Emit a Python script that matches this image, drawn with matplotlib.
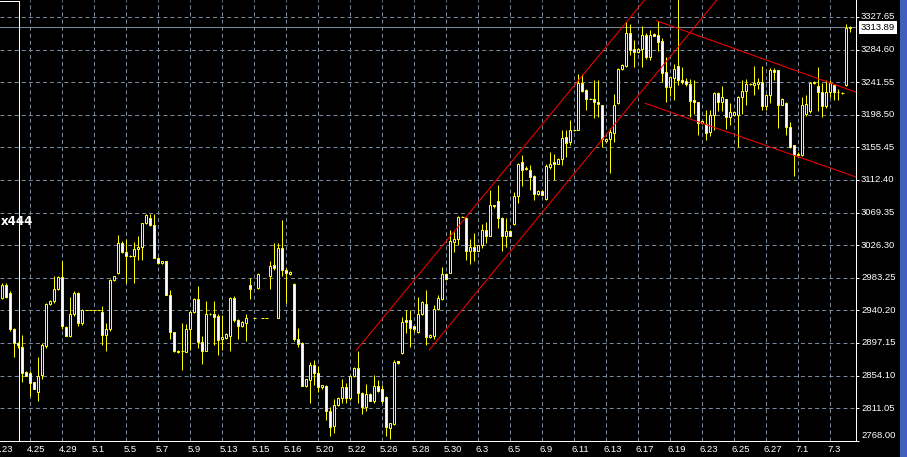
import matplotlib
matplotlib.use('Agg')
import matplotlib.pyplot as plt
import matplotlib.transforms as mtransforms
from matplotlib.patches import Rectangle

plt.rcParams['lines.scale_dashes'] = False
plt.rcParams['font.family'] = ['Liberation Sans', 'DejaVu Sans']

# hourly candles, one entry per bar
opens = [
    2957, 2974, 2963, 2915, 2897, 2892, 2859, 2857, 2845, 2833,
    2855, 2893, 2949, 2952, 2969, 2984, 2918, 2907, 2935, 2963,
    2923, 2941, 2941, 2941, 2941, 2938, 2908, 2915, 2980, 2990,
    3029, 3017, 3012, 3012, 3021, 3024, 3055, 3062, 3053, 3010,
    3003, 3005, 2961, 2911, 2887, 2886, 2885, 2915, 2938, 2955,
    2899, 2887, 2936, 2936, 2933, 2902, 2904, 2906, 2956, 2928,
    2919, 2924, 2974, 2930, 2970, 2930, 2930, 2986, 3000, 2930,
    3022, 2994, 2988, 2975, 2902, 2897, 2840, 2848, 2868, 2857,
    2839, 2840, 2807, 2787, 2815, 2824, 2839, 2824, 2853, 2864,
    2831, 2812, 2830, 2820, 2840, 2836, 2826, 2785, 2790, 2873,
    2884, 2928, 2928, 2919, 2912, 2935, 2949, 2905, 2906, 2942,
    2955, 2988, 2990, 3031, 3034, 3064, 3062, 3019, 3024, 3019,
    3026, 3046, 3039, 3080, 3085, 3062, 3039, 3045, 3054, 3091,
    3136, 3128, 3125, 3118, 3094, 3098, 3087, 3130, 3136, 3134,
    3140, 3169, 3162, 3178, 3179, 3241, 3231, 3220, 3220, 3216,
    3211, 3164, 3167, 3175, 3214, 3259, 3263, 3307, 3286, 3281,
    3286, 3304, 3275, 3305, 3304, 3296, 3255, 3235, 3247, 3263,
    3245, 3243, 3239, 3218, 3215, 3188, 3186, 3176, 3198, 3227,
    3216, 3219, 3196, 3198, 3198, 3222, 3230, 3239, 3238, 3239,
    3242, 3210, 3225, 3257, 3257, 3212, 3214, 3182, 3158, 3147,
    3145, 3200, 3203, 3242, 3237, 3229, 3210, 3229, 3238, 3229,
    3227, 3238, 3313,
]
highs = [
    2976, 2976, 2966, 2917, 2899, 2908, 2860, 2860, 2846, 2878,
    2897, 2950, 2954, 2985, 2986, 3005, 2920, 2958, 2966, 2965,
    2942, 2941, 2941, 2941, 2941, 2946, 2924, 2982, 2986, 3040,
    3032, 3035, 3013, 3031, 3038, 3056, 3067, 3068, 3068, 3011,
    3006, 3006, 2967, 2912, 2888, 2924, 2922, 2939, 2956, 2972,
    2906, 2952, 2937, 2952, 2936, 2934, 2910, 2958, 2959, 2929,
    2926, 2936, 2983, 2930, 2989, 2930, 2930, 3005, 3029, 3029,
    3060, 2996, 2992, 2977, 2917, 2899, 2850, 2872, 2875, 2867,
    2842, 2841, 2812, 2823, 2826, 2849, 2844, 2855, 2865, 2886,
    2832, 2843, 2831, 2855, 2848, 2842, 2827, 2792, 2875, 2874,
    2932, 2941, 2941, 2920, 2958, 2952, 2967, 2909, 2947, 2960,
    2998, 2989, 3047, 3044, 3065, 3065, 3063, 3035, 3043, 3027,
    3054, 3057, 3099, 3080, 3106, 3063, 3062, 3046, 3097, 3135,
    3146, 3131, 3132, 3119, 3099, 3099, 3134, 3149, 3147, 3141,
    3178, 3178, 3191, 3179, 3253, 3253, 3233, 3221, 3245, 3244,
    3212, 3168, 3181, 3226, 3260, 3265, 3321, 3319, 3297, 3287,
    3316, 3306, 3310, 3306, 3323, 3300, 3275, 3249, 3266, 3355,
    3262, 3247, 3246, 3245, 3216, 3191, 3205, 3205, 3229, 3229,
    3237, 3220, 3214, 3203, 3223, 3245, 3246, 3240, 3263, 3247,
    3263, 3226, 3260, 3260, 3258, 3221, 3215, 3189, 3159, 3150,
    3222, 3225, 3242, 3243, 3262, 3240, 3244, 3244, 3239, 3232,
    3228, 3319, 3316,
]
lows = [
    2955, 2956, 2913, 2879, 2890, 2845, 2853, 2827, 2836, 2820,
    2850, 2890, 2947, 2950, 2967, 2916, 2906, 2905, 2933, 2920,
    2921, 2941, 2941, 2941, 2941, 2894, 2887, 2913, 2979, 2988,
    3016, 2977, 3011, 2976, 3007, 3007, 3054, 3052, 3009, 3002,
    3002, 2960, 2902, 2885, 2884, 2862, 2885, 2888, 2937, 2890,
    2870, 2886, 2934, 2895, 2881, 2888, 2903, 2887, 2925, 2903,
    2918, 2900, 2955, 2930, 2969, 2930, 2930, 2968, 2994, 2930,
    2986, 2950, 2987, 2900, 2892, 2840, 2839, 2818, 2842, 2832,
    2837, 2796, 2774, 2778, 2814, 2818, 2818, 2822, 2852, 2818,
    2803, 2807, 2820, 2818, 2832, 2818, 2774, 2771, 2789, 2870,
    2883, 2910, 2892, 2912, 2910, 2934, 2894, 2904, 2903, 2941,
    2954, 2980, 2989, 3017, 3027, 3063, 3007, 3002, 3006, 3018,
    3022, 3029, 3038, 3075, 3049, 3019, 3024, 3038, 3053, 3082,
    3105, 3126, 3099, 3086, 3093, 3092, 3086, 3127, 3112, 3133,
    3132, 3143, 3159, 3177, 3178, 3229, 3205, 3219, 3194, 3196,
    3156, 3163, 3121, 3163, 3213, 3258, 3262, 3277, 3262, 3280,
    3262, 3272, 3271, 3302, 3283, 3242, 3216, 3223, 3218, 3238,
    3239, 3237, 3196, 3200, 3172, 3187, 3165, 3170, 3178, 3204,
    3204, 3180, 3185, 3197, 3156, 3200, 3211, 3238, 3225, 3233,
    3205, 3205, 3214, 3244, 3181, 3211, 3172, 3154, 3118, 3144,
    3144, 3197, 3201, 3239, 3203, 3196, 3208, 3222, 3218, 3218,
    3226, 3237, 3308,
]
closes = [
    2974, 2958, 2915, 2897, 2894, 2858, 2854, 2844, 2837, 2853,
    2895, 2949, 2953, 2969, 2984, 2919, 2907, 2935, 2963, 2923,
    2941, 2941, 2941, 2941, 2941, 2908, 2915, 2980, 2985, 3029,
    3017, 3012, 3012, 3021, 3024, 3055, 3066, 3053, 3010, 3003,
    3005, 2961, 2911, 2886, 2885, 2886, 2915, 2938, 2955, 2899,
    2887, 2935, 2935, 2932, 2901, 2905, 2909, 2956, 2928, 2919,
    2925, 2930, 2969, 2930, 2988, 2930, 2930, 2999, 2996, 3022,
    2993, 2989, 2991, 2902, 2896, 2840, 2849, 2868, 2857, 2839,
    2841, 2807, 2786, 2815, 2825, 2839, 2824, 2854, 2864, 2831,
    2812, 2830, 2821, 2840, 2834, 2820, 2786, 2791, 2872, 2871,
    2925, 2925, 2917, 2915, 2935, 2951, 2905, 2908, 2942, 2956,
    2988, 2981, 3032, 3034, 3064, 3064, 3019, 3024, 3018, 3026,
    3046, 3038, 3079, 3078, 3062, 3039, 3045, 3039, 3091, 3134,
    3126, 3127, 3117, 3094, 3098, 3093, 3131, 3134, 3133, 3140,
    3168, 3161, 3178, 3178, 3241, 3230, 3220, 3220, 3216, 3213,
    3167, 3167, 3176, 3211, 3259, 3264, 3306, 3284, 3281, 3286,
    3304, 3275, 3304, 3303, 3294, 3254, 3235, 3248, 3259, 3244,
    3242, 3239, 3217, 3215, 3188, 3190, 3175, 3198, 3227, 3216,
    3222, 3196, 3202, 3202, 3222, 3230, 3239, 3239, 3240, 3242,
    3210, 3225, 3257, 3255, 3211, 3220, 3182, 3156, 3145, 3146,
    3212, 3213, 3241, 3240, 3229, 3210, 3229, 3241, 3229, 3228,
    3227, 3313, 3313.89,
]

date_labels = ['4.23', '4.25', '4.29', '5.1', '5.5', '5.7', '5.9', '5.13', '5.15',
               '5.16', '5.20', '5.22', '5.26', '5.28', '5.30', '6.3', '6.5', '6.9',
               '6.11', '6.13', '6.17', '6.19', '6.23', '6.25', '6.27', '7.1', '7.3']
first_label_bar = -1
bars_per_label = 8

price_min = 2768.00
price_step = 43.05
n_levels = 14
last_price = 3313.89

# trend channels drawn on the chart: (bar, price) start and slope per bar
up_channel = [((88.6, 2888.0), 6.42), ((106.75, 2888.0), 6.43)]
down_channel = [((163.6, 3322.6), -1.89), ((160.7, 3213.7), -1.846)]
separator_bar = 4.3

YELLOW = '#ffff00'
GRID = '#778899'
PX = 0.72  # one pixel in points at dpi 100

fig = plt.figure(figsize=(9.07, 4.57), dpi=100, facecolor='black')
ax = fig.add_axes([0, 16 / 457, 856 / 907, 441 / 457])
ax.set_facecolor('black')
x_lo, x_hi = -0.575, 213.425
y_lo, y_hi = 2767.7, 3350.1
ax.set_xlim(x_lo, x_hi)
ax.set_ylim(y_lo, y_hi)

# grid
levels = [price_min + price_step * i for i in range(n_levels)]
dash = (0, (2.9, 2.2))
for p in levels[1:]:
    ax.axhline(p, color=GRID, lw=PX, ls=dash, zorder=1)
label_bars = [first_label_bar + bars_per_label * i for i in range(len(date_labels))]
for b in label_bars:
    ax.axvline(b, color=GRID, lw=PX, ls=dash, zorder=1)

# candles
n = len(closes)
idx = list(range(n))
ax.vlines(idx, lows, highs, color=YELLOW, lw=PX, zorder=3)
for i in idx:
    o, c = opens[i], closes[i]
    if abs(c - o) < 0.5:
        ax.hlines(o, i - 0.375, i + 0.375, color=YELLOW, lw=PX, zorder=4)
    else:
        face = 'white' if c < o else 'black'
        ax.add_patch(Rectangle((i - 0.25, min(o, c)), 0.5, abs(c - o),
                               facecolor=face, edgecolor=YELLOW, lw=PX, zorder=4))

# channels
for (x0, y0), s in up_channel + down_channel:
    x1 = x_hi + 2 if s < 0 else x0 + (y_hi + 30 - y0) / s
    ax.plot([x0, x1], [y0, y0 + s * (x1 - x0)], color='#ff0000', lw=PX, zorder=5)

# last price line
ax.axhline(last_price, color=GRID, lw=PX, zorder=2)

# white rectangle object at left
ax.plot([separator_bar, separator_bar], [y_lo, y_hi - 0.9], color='white', lw=PX, zorder=6)
ax.plot([x_lo, separator_bar], [y_hi - 0.9, y_hi - 0.9], color='white', lw=PX, zorder=6)

ax.text(x_lo + 0.2, 3058, 'x444', color='white', fontsize=8.5, fontweight='bold',
        va='center', ha='left', family='DejaVu Sans', zorder=7)

# axes frame
for side in ['left', 'top']:
    ax.spines[side].set_visible(False)
for side in ['right', 'bottom']:
    ax.spines[side].set_color('white')
    ax.spines[side].set_linewidth(PX)
ax.yaxis.tick_right()
ax.set_yticks(levels)
ax.set_yticklabels([])
ax.tick_params(axis='y', colors='white', length=2.2, width=PX)
ax.set_xticks([])

ytrans = mtransforms.blended_transform_factory(ax.transAxes, ax.transData)
for i, p in enumerate(levels):
    dy = 5 if i == 0 else 0
    tr = mtransforms.offset_copy(ytrans, fig=fig, x=5, y=dy, units='dots')
    ax.text(1.0, p, f'{p:.2f}', transform=tr, color='white', fontsize=6.8,
            va='center', ha='left', clip_on=False)
tr = mtransforms.offset_copy(ytrans, fig=fig, x=5, y=0, units='dots')
ax.text(1.0, last_price, f'{last_price:.2f}', transform=tr, color='black', fontsize=6.8,
        va='center', ha='left', clip_on=False, zorder=8,
        bbox=dict(boxstyle='square,pad=0.2', fc='white', ec='none'))

xtrans = mtransforms.blended_transform_factory(ax.transData, ax.transAxes)
for b, lab in zip(label_bars, date_labels):
    tr = mtransforms.offset_copy(xtrans, fig=fig, x=-3, y=-8, units='dots')
    ax.text(b, 0, lab, transform=tr, color='white', fontsize=6.8,
            va='center', ha='left', clip_on=False)

# scrollbar strip at the right edge
fig.patches.append(Rectangle((900 / 907, 0), 7 / 907, 1, transform=fig.transFigure,
                             facecolor='#4060c0', edgecolor='none'))

fig.savefig('out.png', dpi=100, facecolor='black')
